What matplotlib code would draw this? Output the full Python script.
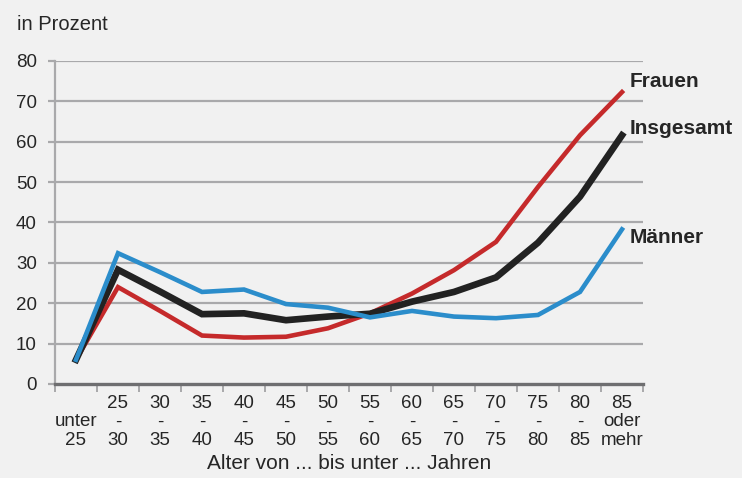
import matplotlib
matplotlib.use("Agg")
import matplotlib.pyplot as plt
import numpy as np

# Age groups (x-axis tick labels, three lines each)
age_groups = [
    "\nunter\n25", "25\n-\n30", "30\n-\n35", "35\n-\n40", "40\n-\n45",
    "45\n-\n50", "50\n-\n55", "55\n-\n60", "60\n-\n65", "65\n-\n70",
    "70\n-\n75", "75\n-\n80", "80\n-\n85", "85\noder\nmehr",
]

# Shares in percent
frauen = [6.0, 24.0, 18.1, 12.0, 11.5, 11.7, 13.8, 17.5, 22.4, 28.2, 35.2, 48.8, 61.6, 72.3]
insgesamt = [6.0, 28.3, 22.9, 17.3, 17.5, 15.8, 16.7, 17.4, 20.4, 22.8, 26.4, 35.0, 46.4, 61.6]
maenner = [6.0, 32.4, 27.7, 22.8, 23.4, 19.8, 18.9, 16.5, 18.1, 16.7, 16.3, 17.1, 22.8, 38.3]

series_names = ["Frauen", "Insgesamt", "Männer"]
y_ticks = [0, 10, 20, 30, 40, 50, 60, 70, 80]

plt.rcParams["font.family"] = ["Liberation Sans", "DejaVu Sans"]

bg = "#f1f1f1"
grid_c = "#a9a9ab"
text_c = "#262626"

fig = plt.figure(figsize=(7.42, 4.78), dpi=100, facecolor=bg)
ax = fig.add_axes([55 / 742, 1 - 384 / 478, (643 - 55) / 742, (384 - 61) / 478])
ax.set_facecolor(bg)

x = np.arange(len(age_groups))
ax.set_xlim(-0.5, len(age_groups) - 0.5)
ax.set_ylim(0, 80)

# horizontal grid lines
for v in y_ticks[1:]:
    ax.axhline(v, color=grid_c, lw=1.6, zorder=1)

ax.plot(x, frauen, color="#c52a2b", lw=3.3, zorder=3, solid_joinstyle="miter")
ax.plot(x, maenner, color="#2b8dcb", lw=3.3, zorder=4, solid_joinstyle="miter")
ax.plot(x, insgesamt, color="#222222", lw=4.8, zorder=3.5, solid_joinstyle="miter")

# series labels at the line ends
label_y = {"Frauen": 74.8, "Insgesamt": 63.4, "Männer": 36.3}
for name in series_names:
    ax.text(13.18, label_y[name], name, fontsize=15, fontweight="bold",
            color=text_c, ha="left", va="center", clip_on=False)

for side in ["top", "right"]:
    ax.spines[side].set_visible(False)
ax.spines["left"].set_color(grid_c)
ax.spines["left"].set_linewidth(1.6)
ax.spines["bottom"].set_color("#6e6e70")
ax.spines["bottom"].set_linewidth(2.4)
ax.spines["left"].set_zorder(2)

ax.set_yticks(y_ticks)
ax.set_yticklabels([str(v) for v in y_ticks])
ax.tick_params(axis="y", length=5, width=1.6, color=grid_c, labelsize=13.5,
               labelcolor=text_c, pad=8)

# x ticks at group boundaries, labels at group centres
ax.set_xticks(np.arange(-0.5, len(age_groups), 1.0))
ax.set_xticklabels([])
ax.set_xticks(x, minor=True)
ax.set_xticklabels(age_groups, minor=True, fontsize=13.5, color=text_c,
                   linespacing=1.1)
ax.tick_params(axis="x", which="major", length=6, width=1.4, color=grid_c)
ax.tick_params(axis="x", which="minor", length=0, pad=8)

ax.set_xlabel("Alter von ... bis unter ... Jahren", fontsize=15, color=text_c,
              labelpad=4)

fig.text(17 / 742, 1 - 24 / 478, "in Prozent", fontsize=14.5, color=text_c,
         ha="left", va="center")

fig.savefig("out.png", dpi=100, facecolor=bg)
